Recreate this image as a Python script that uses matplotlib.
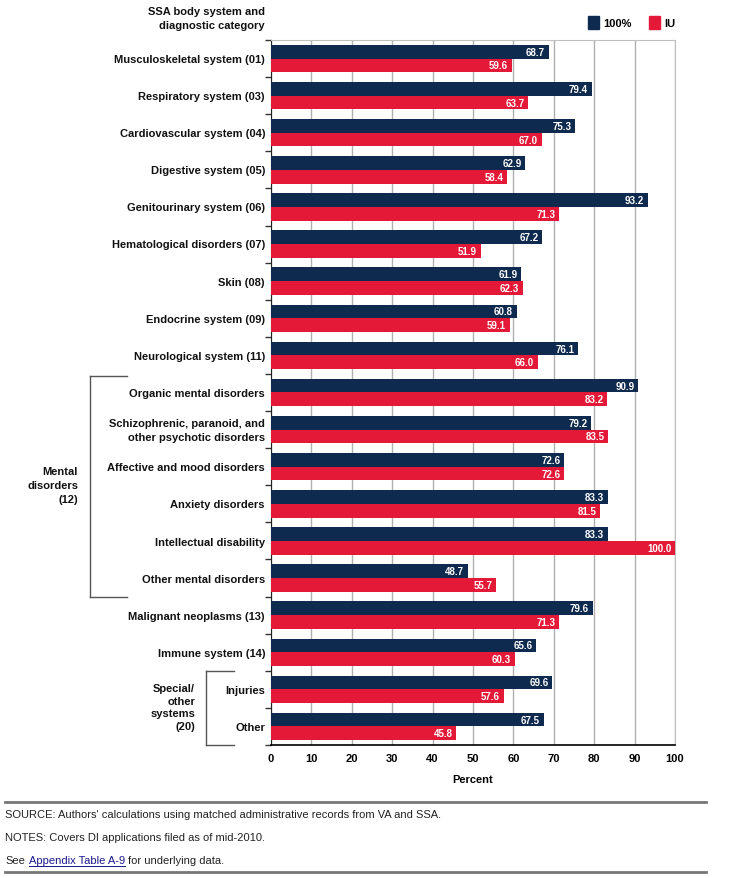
import matplotlib
matplotlib.use("Agg")
import matplotlib.pyplot as plt
from matplotlib.lines import Line2D
from matplotlib.patches import Rectangle

categories = [
    "Musculoskeletal system (01)", "Respiratory system (03)", "Cardiovascular system (04)",
    "Digestive system (05)", "Genitourinary system (06)", "Hematological disorders (07)",
    "Skin (08)", "Endocrine system (09)", "Neurological system (11)",
    "Organic mental disorders", "Schizophrenic, paranoid, and\nother psychotic disorders",
    "Affective and mood disorders", "Anxiety disorders", "Intellectual disability",
    "Other mental disorders", "Malignant neoplasms (13)", "Immune system (14)",
    "Injuries", "Other",
]
full_100 = [68.7, 79.4, 75.3, 62.9, 93.2, 67.2, 61.9, 60.8, 76.1, 90.9,
            79.2, 72.6, 83.3, 83.3, 48.7, 79.6, 65.6, 69.6, 67.5]
iu = [59.6, 63.7, 67.0, 58.4, 71.3, 51.9, 62.3, 59.1, 66.0, 83.2,
      83.5, 72.6, 81.5, 100.0, 55.7, 71.3, 60.3, 57.6, 45.8]
xticks = [0, 10, 20, 30, 40, 50, 60, 70, 80, 90, 100]

NAVY = "#0f2a4f"
RED = "#e31937"
BOLD = ["Liberation Sans", "DejaVu Sans"]
NARROW = ["Liberation Sans Narrow", "Liberation Sans", "DejaVu Sans"]

W, H = 736, 879
fig = plt.figure(figsize=(W / 100, H / 100), dpi=100)
fig.patch.set_facecolor("white")

def fx(px):
    return px / W

def fy(py):
    return 1 - py / H

ax = fig.add_axes([fx(271), fy(746), fx(675) - fx(271), fy(41) - fy(746)])
n = len(categories)
ax.set_ylim(n, 0)
ax.set_xlim(0, 100)

bh = 0.37
for i in range(n):
    ax.barh(i + 0.5 - bh / 2, full_100[i], height=bh, color=NAVY, zorder=3)
    ax.barh(i + 0.5 + bh / 2, iu[i], height=bh, color=RED, zorder=3)
    ax.text(full_100[i] - 0.9, i + 0.5 - bh / 2, f"{full_100[i]:.1f}", color="white",
            ha="right", va="center", fontsize=7, fontweight="bold", family=BOLD, zorder=4)
    ax.text(iu[i] - 0.9, i + 0.5 + bh / 2, f"{iu[i]:.1f}", color="white",
            ha="right", va="center", fontsize=7, fontweight="bold", family=BOLD, zorder=4)

ax.set_xticks(xticks)
ax.set_xticklabels([str(t) for t in xticks], fontsize=8, fontweight="bold", family=BOLD)
ax.set_yticks(range(n + 1))
ax.set_yticklabels([])
ax.tick_params(axis="y", length=4, width=1, color="#333333")
ax.tick_params(axis="x", length=0, pad=6)
ax.xaxis.grid(True, color="#b0b0b0", linewidth=1, zorder=0)
ax.set_axisbelow(True)
for s in ["top", "right"]:
    ax.spines[s].set_color("#c0c0c0")
ax.spines["left"].set_color("#222222")
ax.spines["bottom"].set_color("black")
ax.spines["bottom"].set_linewidth(1.2)
ax.set_xlabel("Percent", fontsize=8, fontweight="bold", family=BOLD, labelpad=8)

# category labels
for i, c in enumerate(categories):
    fig.text(fx(265), fy(41 + (i + 0.5) * 706 / n), c, ha="right", va="center",
             fontsize=8, fontweight="bold", family=BOLD, linespacing=1.45, color="#111111")

# group brackets
bracket = dict(color="#555555", linewidth=1)
fig.add_artist(Line2D([fx(90), fx(90)], [fy(377), fy(598)], **bracket))
fig.add_artist(Line2D([fx(90), fx(127)], [fy(377), fy(377)], **bracket))
fig.add_artist(Line2D([fx(90), fx(127)], [fy(598), fy(598)], **bracket))
fig.text(fx(78), fy(486), "Mental\ndisorders\n(12)", ha="right", va="center",
         fontsize=8, fontweight="bold", family=BOLD, linespacing=1.5, color="#111111")

fig.add_artist(Line2D([fx(206), fx(206)], [fy(672), fy(746)], **bracket))
fig.add_artist(Line2D([fx(206), fx(234)], [fy(672), fy(672)], **bracket))
fig.add_artist(Line2D([fx(206), fx(234)], [fy(746), fy(746)], **bracket))
fig.text(fx(195), fy(708), "Special/\nother\nsystems\n(20)", ha="right", va="center",
         fontsize=8, fontweight="bold", family=BOLD, linespacing=1.35, color="#111111")

# header
fig.text(fx(265), fy(19), "SSA body system and\ndiagnostic category", ha="right", va="center",
         fontsize=8, fontweight="bold", family=BOLD, linespacing=1.4, color="#111111")

# legend
fig.add_artist(Rectangle((fx(588), fy(30)), fx(11), fy(17) - fy(30), color=NAVY))
fig.text(fx(603), fy(24), "100%", ha="left", va="center", fontsize=8, fontweight="bold", family=BOLD)
fig.add_artist(Rectangle((fx(649), fy(30)), fx(11), fy(17) - fy(30), color=RED))
fig.text(fx(664), fy(24), "IU", ha="left", va="center", fontsize=8, fontweight="bold", family=BOLD)

# footer
rule = dict(color="#777777", linewidth=2)
fig.add_artist(Line2D([fx(5), fx(706)], [fy(803), fy(803)], **rule))
fig.add_artist(Line2D([fx(5), fx(706)], [fy(873), fy(873)], **rule))
note = dict(ha="left", va="center", fontsize=8, family=NARROW, color="#222222")
fig.text(fx(5), fy(815), "SOURCE: Authors' calculations using matched administrative records from VA and SSA.", **note)
fig.text(fx(5), fy(838), "NOTES: Covers DI applications filed as of mid-2010.", **note)
fig.text(fx(5), fy(861), "See", **note)
fig.text(fx(29), fy(861), "Appendix Table A-9", ha="left", va="center", fontsize=8,
         family=NARROW, color="#1a1a8c")
fig.add_artist(Line2D([fx(29), fx(125)], [fy(867), fy(867)], color="#1a1a8c", linewidth=0.7))
fig.text(fx(128), fy(861), "for underlying data.", **note)

fig.savefig("out.png", dpi=100)
